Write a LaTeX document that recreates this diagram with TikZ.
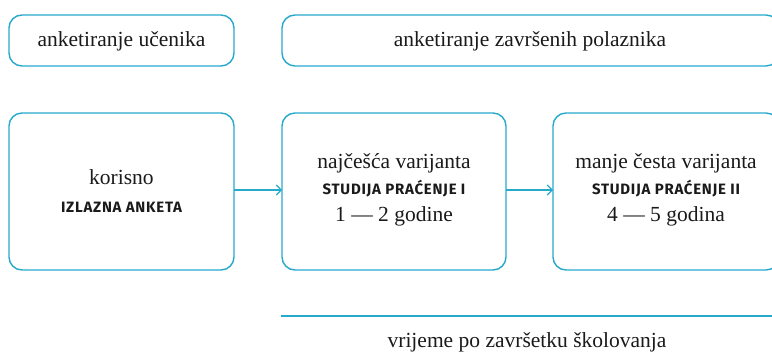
\documentclass[tikz,border=0pt]{standalone}
\usepackage{fontspec}
\setmainfont{Liberation Serif}
\newfontfamily\capsfont{Fira Sans}[UprightFont=* Bold]
\usetikzlibrary{arrows.meta}
\definecolor{cyanline}{HTML}{27A9CD}
\definecolor{txt}{HTML}{1A1A1A}
\tikzset{
  box/.style={draw=cyanline, line width=1.4pt, rounded corners=13pt},
  lbl/.style={text=txt, font=\fontsize{21.5}{27}\selectfont, align=center},
  conn/.style={draw=cyanline, line width=1.1pt, -{Straight Barb[length=5pt,width=10pt,line width=1.1pt]}},
}
\newcommand{\capsl}[1]{{\capsfont\fontsize{15}{27}\selectfont\addfontfeature{LetterSpace=5}#1}}
\begin{document}
\begin{tikzpicture}[x=1pt,y=-1pt]
\useasboundingbox (0,0) rectangle (772,353);
\begin{scope}
\clip (0,0) rectangle (772,353);
\draw[box] (9,15) rectangle (234,66);
\draw[box] (282,15) rectangle (779,66);
\draw[box] (9,113) rectangle (234,270);
\draw[box] (282,113) rectangle (506,270);
\draw[box] (553,113) rectangle (779,270);
\end{scope}
\node[lbl] (t1) at (121.5,41) {anketiranje učenika};
\node[lbl] (t2) at (530,41) {anketiranje završenih polaznika};
\node[lbl] (b1) at (121.5,191) {korisno\\[1pt]\capsl{IZLAZNA ANKETA}};
\node[lbl] (b2) at (394,189.5) {najčešća varijanta\\[-1pt]\capsl{STUDIJA PRAĆENJE I}\\[0pt]1 — 2 godine};
\node[lbl] (b3) at (666,189.5) {manje česta varijanta\\[-1pt]\capsl{STUDIJA PRAĆENJE II}\\[0pt]4 — 5 godina};
\coordinate (a1s) at (234,190);
\coordinate (a1e) at (282,190);
\coordinate (a2s) at (506,190);
\coordinate (a2e) at (553,190);
\draw[conn] (a1s) -- (a1e);
\draw[conn] (a2s) -- (a2e);
\coordinate (ls) at (281,316);
\coordinate (le) at (772,316);
\draw[draw=cyanline, line width=1.4pt] (ls) -- (le);
\node[lbl] (tl) at (527,342) {vrijeme po završetku školovanja};
\end{tikzpicture}
\end{document}
